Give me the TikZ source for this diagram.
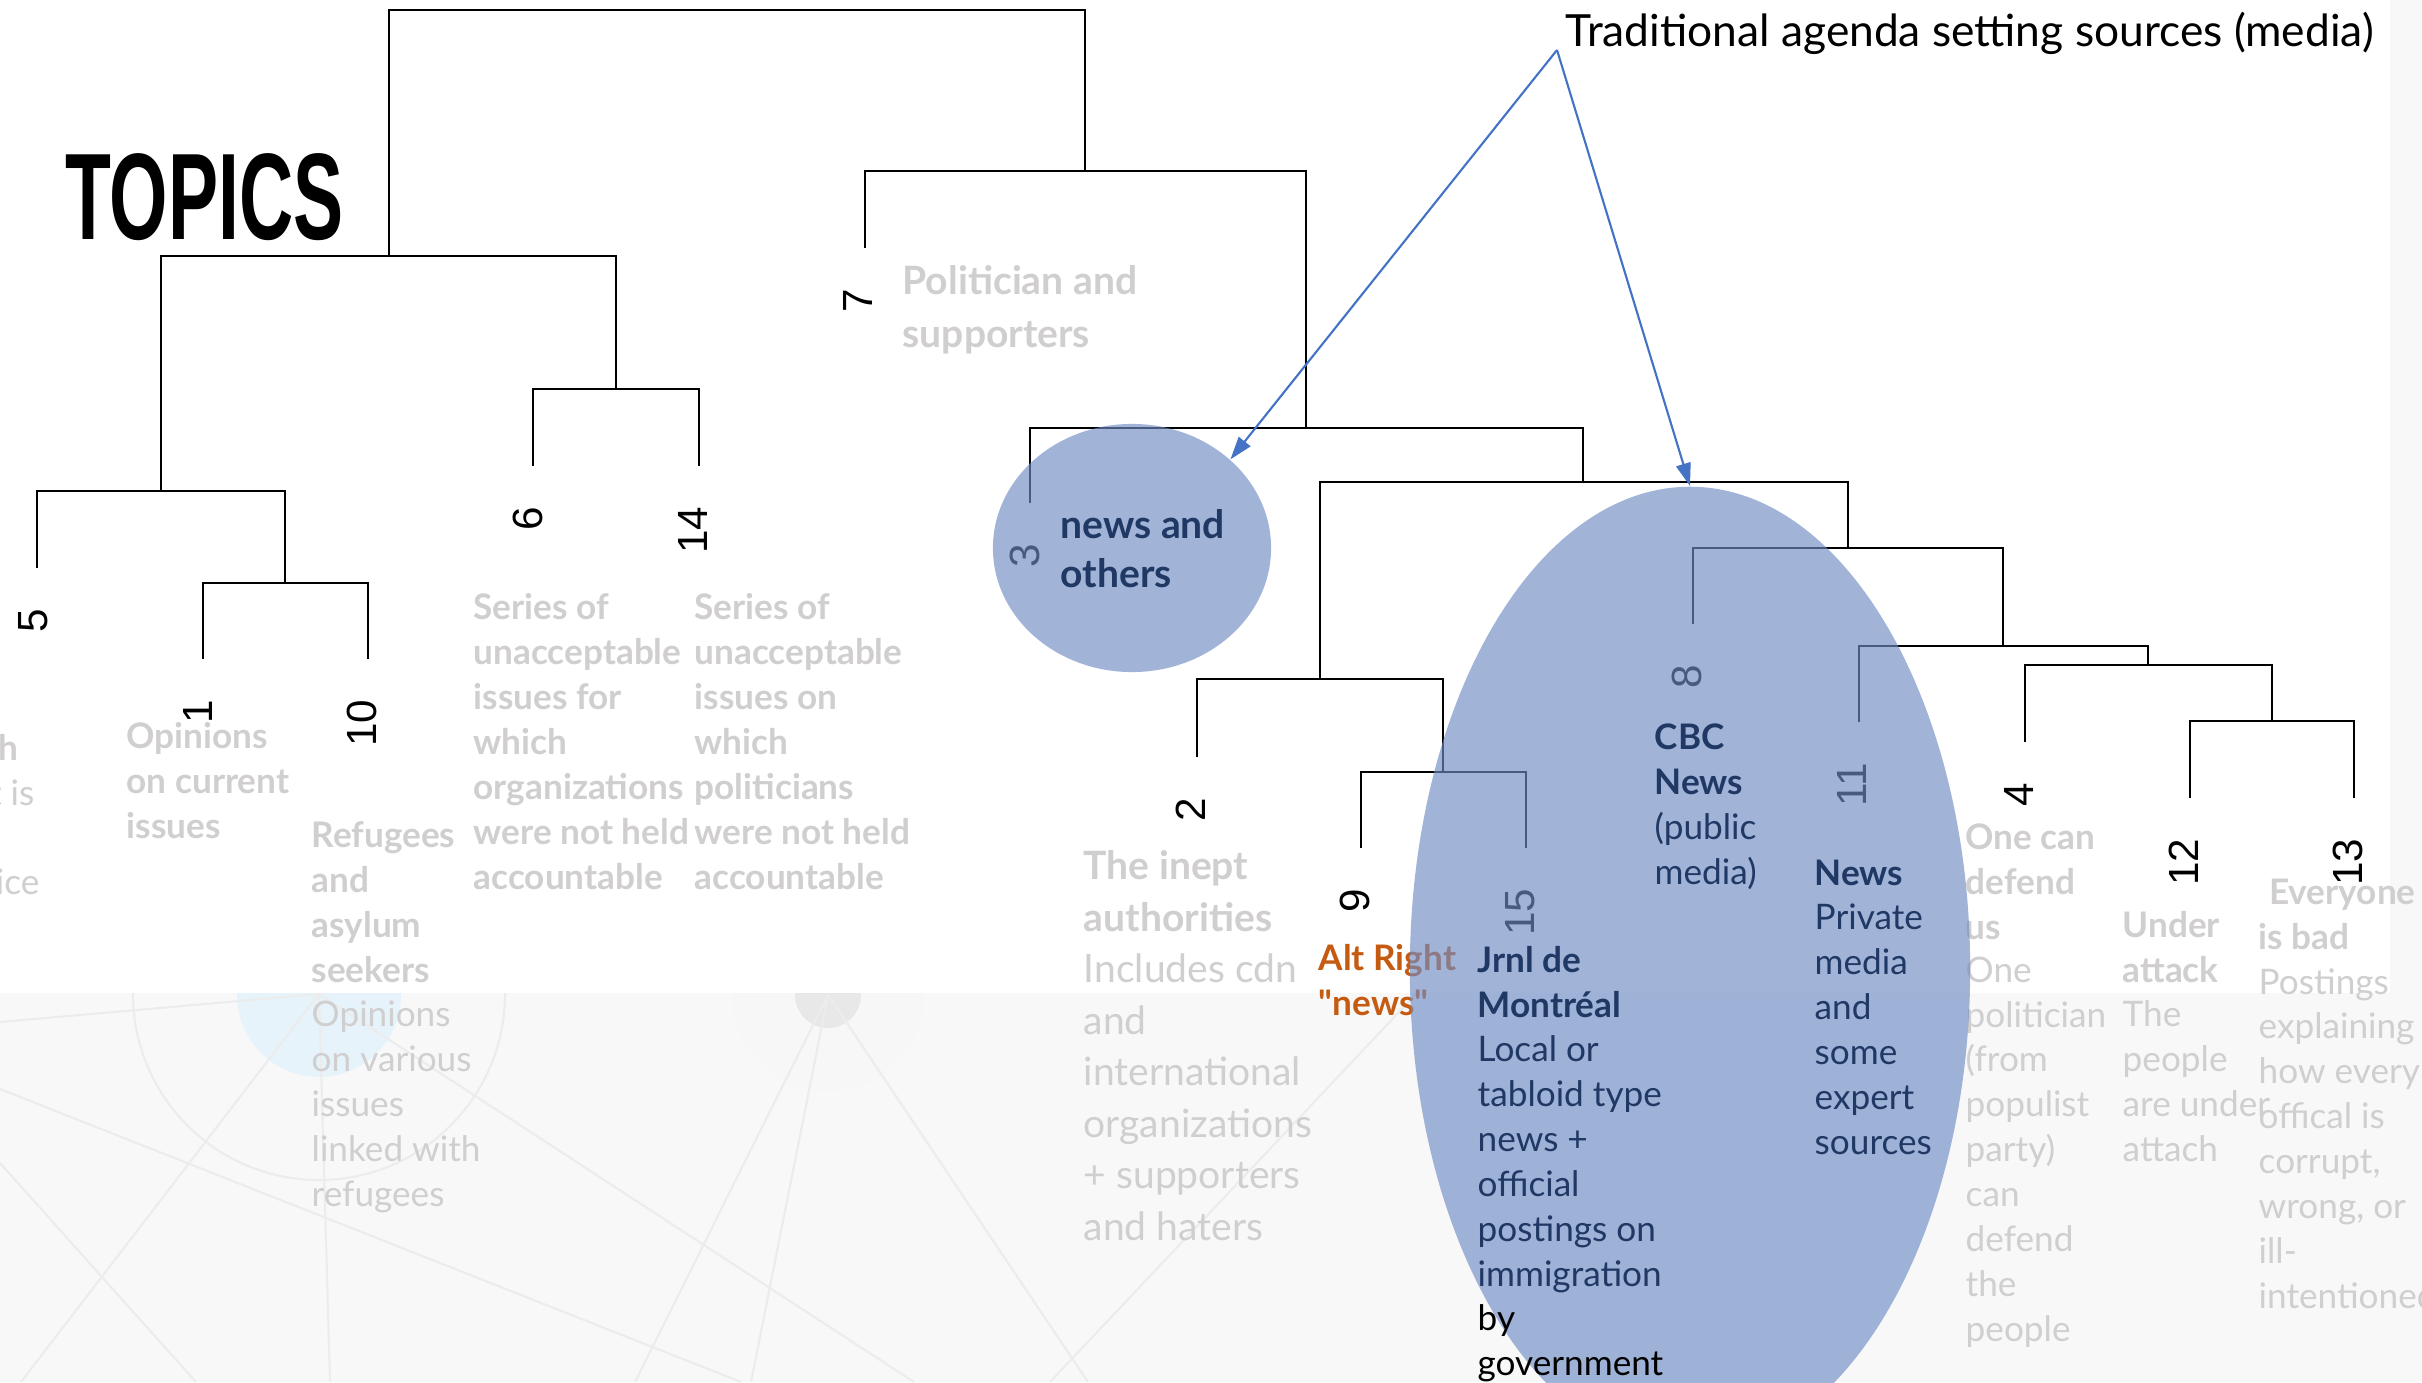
\documentclass[tikz,border=0pt]{standalone}
\usepackage{fontspec}
\setmainfont{Lato}[Ligatures=TeXOff]
\newfontfamily\numfont{Liberation Sans}
\usetikzlibrary{arrows.meta,shapes.geometric}

\definecolor{lblgray}{HTML}{D0CECE}
\definecolor{navy}{HTML}{1F3864}
\definecolor{altorange}{HTML}{C55A11}
\definecolor{ovalblue}{HTML}{6F8CC4}
\definecolor{arrowblue}{HTML}{4472C4}
\definecolor{slidegray}{HTML}{F8F8F8}
\definecolor{slideline}{HTML}{ECECEC}
\definecolor{paleblue}{HTML}{E6F3FB}

\tikzset{
  branch/.style={line width=0.75pt},
  num/.style={font=\numfont\fontsize{12pt}{12pt}\selectfont, rotate=90, anchor=east, inner sep=0pt},
  % base = baseline of the last line
  lbl/.style={anchor=base west, align=left, inner sep=0pt, text=lblgray, font=\fontsize{10pt}{12.75pt}\selectfont},
  ttl/.style={lbl, font=\fontsize{10pt}{12.75pt}\selectfont\bfseries},
  biglbl/.style={lbl, font=\fontsize{11.1pt}{14.62pt}\selectfont},
  bigttl/.style={lbl, font=\fontsize{11.1pt}{14.62pt}\selectfont\bfseries},
  oval/.style={ellipse, fill=ovalblue, fill opacity=0.65, inner sep=0pt},
  pointer/.style={arrowblue, line width=0.6pt, -{Triangle[length=6.5pt,width=4.2pt]}},
  backline/.style={slideline, line width=0.6pt}
}

\begin{document}
\begin{tikzpicture}[x=0.01cm, y=-0.01cm]
  \useasboundingbox (0,0) rectangle (2422,1382);
  \clip (0,0) rectangle (2422,1382);

  % Fondo de la diapositiva
  \fill[slidegray] (0,0) rectangle (2422,1382);
  \fill[paleblue] (319,995) circle (82);
  \draw[backline] (319,994) circle (186);
  \fill[slideline!40] (828,995) circle (96);
  \fill[slideline!120] (828,995) circle (33);
  \draw[backline] (0,1022) -- (319,994);
  \draw[backline] (0,1089) -- (741,1382);
  \draw[backline] (319,994) -- (914,1382);
  \draw[backline] (319,994) -- (21,1382);
  \draw[backline] (319,994) -- (330,1382);
  \draw[backline] (0,1163) -- (196,1382);
  \draw[backline] (828,995) -- (635,1382);
  \draw[backline] (828,995) -- (751,1382);
  \draw[backline] (828,995) -- (1088,1382);
  \draw[backline] (1417,993) -- (1050,1382);
  \fill[white] (0,0) rectangle (2390,993);

  % Titulo
  \node[font=\numfont\bfseries\fontsize{35pt}{35pt}\selectfont, xscale=0.61,
        anchor=base west, inner sep=0pt] (topics) at (65,239) {TOPICS};

  % Extremos de las hojas
  \coordinate (t5) at (37,568);
  \coordinate (t1) at (203,659);
  \coordinate (t10) at (368,659);
  \coordinate (t6) at (533,466);
  \coordinate (t14) at (699,466);
  \coordinate (t7) at (865,248);
  \coordinate (t3) at (1030,503);
  \coordinate (t2) at (1197,757);
  \coordinate (t9) at (1361,848);
  \coordinate (t15) at (1526,848);
  \coordinate (t8) at (1693,624);
  \coordinate (t11) at (1859,722);
  \coordinate (t4) at (2025,742);
  \coordinate (t12) at (2190,798);
  \coordinate (t13) at (2354,798);

  % Uniones
  \coordinate (jA) at (285,583);
  \coordinate (jB) at (161,491);
  \coordinate (jC) at (616,389);
  \coordinate (jD) at (389,256);
  \coordinate (jE) at (2272,721);
  \coordinate (jF) at (2148,665);
  \coordinate (jG) at (2003,646);
  \coordinate (jH) at (1848,548);
  \coordinate (jI) at (1443,772);
  \coordinate (jJ) at (1320,679);
  \coordinate (jK) at (1583,482);
  \coordinate (jL) at (1306,428);
  \coordinate (jM) at (1085,171);
  \coordinate (root) at (737,10);

  % Dendrograma
  \draw[branch] (t1) |- (jA) -| (t10);
  \draw[branch] (t5) |- (jB) -| (jA);
  \draw[branch] (t6) |- (jC) -| (t14);
  \draw[branch] (jB) |- (jD) -| (jC);
  \draw[branch] (t12) |- (jE) -| (t13);
  \draw[branch] (t4) |- (jF) -| (jE);
  \draw[branch] (t11) |- (jG) -| (jF);
  \draw[branch] (t8) |- (jH) -| (jG);
  \draw[branch] (t9) |- (jI) -| (t15);
  \draw[branch] (t2) |- (jJ) -| (jI);
  \draw[branch] (jJ) |- (jK) -| (jH);
  \draw[branch] (t3) |- (jL) -| (jK);
  \draw[branch] (t7) |- (jM) -| (jL);
  \draw[branch] (jD) |- (root) -| (jM);

  % Numeros de las hojas
  \node[num] (n5) at (33,608) {5};
  \node[num] (n1) at (198,699) {1};
  \node[num] (n10) at (362,699) {10};
  \node[num] (n6) at (528,506) {6};
  \node[num] (n14) at (693,506) {14};
  \node[num] (n7) at (858,288) {7};
  \node[num] (n3) at (1025,543) {3};
  \node[num] (n2) at (1191,797) {2};
  \node[num] (n9) at (1355,888) {9};
  \node[num] (n15) at (1520,888) {15};
  \node[num] (n8) at (1687,664) {8};
  \node[num] (n11) at (1852,762) {11};
  \node[num] (n4) at (2019,782) {4};
  \node[num] (n12) at (2184,838) {12};
  \node[num] (n13) at (2348,838) {13};

  % Etiquetas grises
  \node[ttl, anchor=base east] (l5a) at (19,760) {h};
  \node[lbl, anchor=base east] (l5b) at (35,805) {t is};
  \node[lbl, anchor=base east] (l5c) at (40,894) {ice};
  \node[ttl] (l1) at (126,838) {Opinions\\on current\\issues};
  \node[ttl] (l10) at (311,982) {Refugees\\and\\asylum\\seekers};
  \node[lbl] (l10d) at (311,1206) {Opinions\\on various\\issues\\linked with\\refugees};
  \node[ttl] (l6) at (473,889) {Series of\\unacceptable\\issues for\\which\\organizations\\were not held\\accountable};
  \node[ttl] (l14) at (694,889) {Series of\\unacceptable\\issues on\\which\\politicians\\were not held\\accountable};
  \node[bigttl, font=\fontsize{11.1pt}{14.8pt}\selectfont\bfseries] (l7) at (902,347) {Politician and\\supporters};
  \node[bigttl] (l2) at (1083,931) {The inept\\authorities};
  \node[biglbl] (l2d) at (1083,1240) {Includes cdn\\and\\international\\organizations\\+ supporters\\and haters};
  \node[ttl, text=altorange] (l9) at (1318,1015) {Alt Right\\"news"};
  \node[ttl] (l4) at (1965,939) {One can\\defend\\us};
  \node[lbl] (l4d) at (1965,1341) {One\\politician\\(from\\populist\\party)\\can\\defend\\the\\people};
  \node[ttl] (l12) at (2122,982) {Under\\attack};
  \node[lbl] (l12d) at (2122,1161) {The\\people\\are under\\attach};
  \node[ttl] (l13) at (2258,949) {\hspace*{3pt}Everyone\\is bad};
  \node[lbl] (l13d) at (2258,1308) {Postings\\explaining\\how every\\offical is\\corrupt,\\wrong, or\\ill-\\intentioned};

  % Ovalos
  \node[oval, minimum width=2.78cm, minimum height=2.48cm] (newsoval) at (1132,548) {};
  \node[oval, minimum width=5.6cm, minimum height=9.64cm] (bigoval) at (1690,969) {};

  % Etiquetas azules
  \node[bigttl, text=navy, font=\fontsize{11.1pt}{13.9pt}\selectfont\bfseries] (l3) at (1060,587) {news and\\others};
  \node[ttl, text=navy] (l15) at (1477,1017) {Jrnl de\\Montréal};
  \node[lbl, text=navy] (l15d) at (1477,1286) {Local or\\tabloid type\\news +\\official\\postings on\\immigration};
  \node[lbl, text=black] (l15e) at (1477,1375) {by\\government};
  \node[ttl, text=navy] (l8) at (1654,794) {CBC\\News};
  \node[lbl, text=navy] (l8d) at (1654,884) {(public\\media)};
  \node[ttl, text=navy] (l11) at (1814,885) {News};
  \node[lbl, text=navy] (l11d) at (1814,1154) {Private\\media\\and\\some\\expert\\sources};

  % Flechas
  \node[anchor=base west, inner sep=0pt, font=\fontsize{12.6pt}{15pt}\selectfont] (agenda) at (1565,47) {Traditional agenda setting sources (media)};
  \coordinate (apex) at (1557,50);
  \draw[pointer] (apex) -- (newsoval.42);
  \draw[pointer] (apex) -- (bigoval.north);
\end{tikzpicture}
\end{document}
